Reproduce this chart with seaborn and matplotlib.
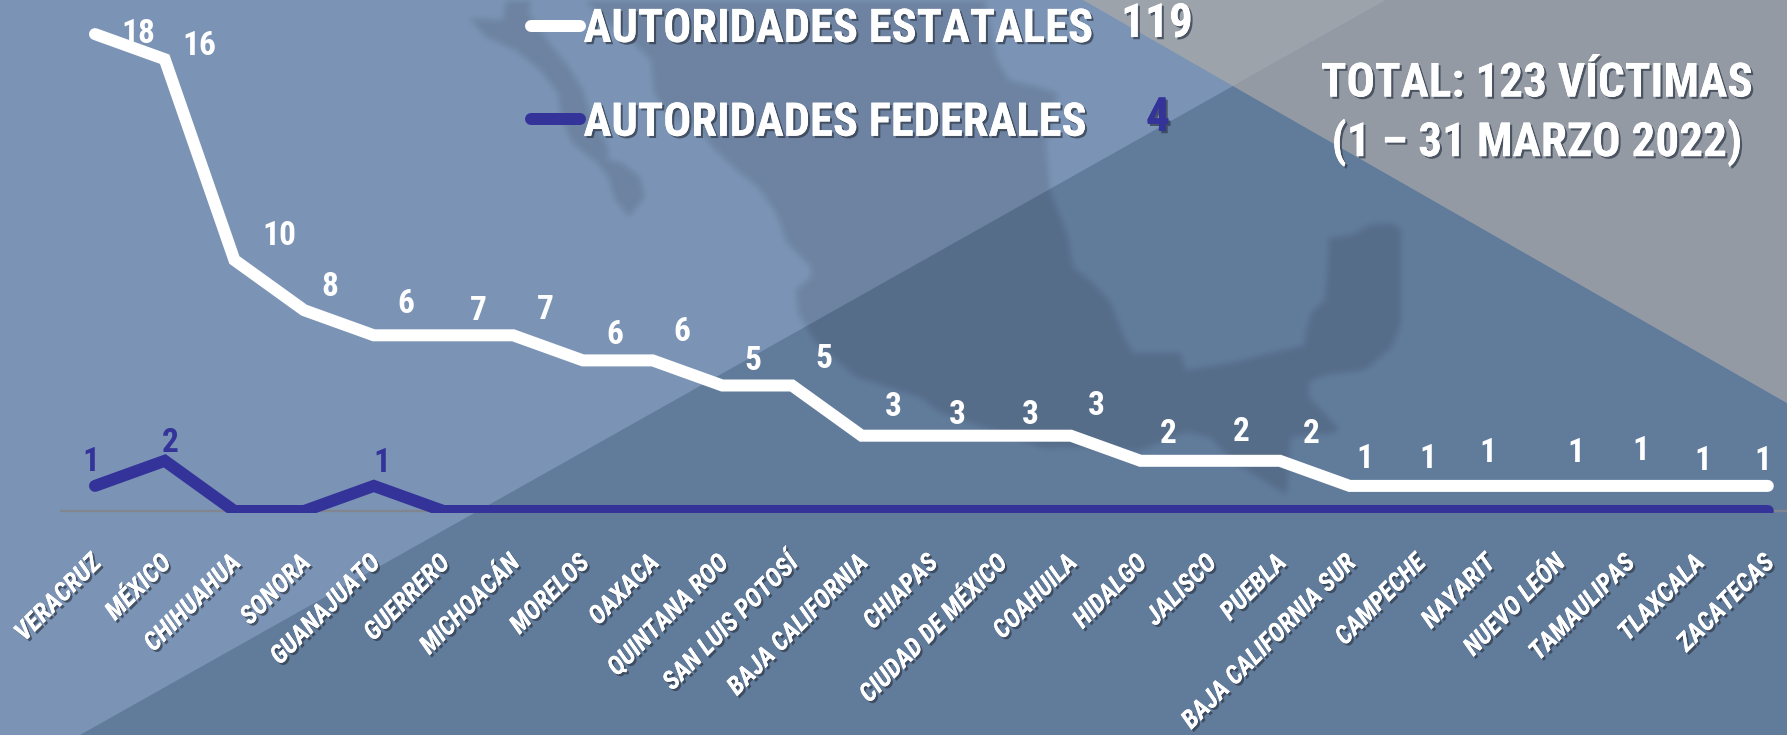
import matplotlib
matplotlib.use("Agg")
import matplotlib.pyplot as plt
import matplotlib.patheffects as pe
from matplotlib.backends.backend_agg import FigureCanvasAgg
import numpy as np
import pandas as pd
import seaborn as sns

# ---- data ----
estados = ["VERACRUZ", "MÉXICO", "CHIHUAHUA", "SONORA", "GUANAJUATO", "GUERRERO", "MICHOACÁN",
           "MORELOS", "OAXACA", "QUINTANA ROO", "SAN LUIS POTOSÍ", "BAJA CALIFORNIA", "CHIAPAS",
           "CIUDAD DE MÉXICO", "COAHUILA", "HIDALGO", "JALISCO", "PUEBLA", "BAJA CALIFORNIA SUR",
           "CAMPECHE", "NAYARIT", "NUEVO LEÓN", "TAMAULIPAS", "TLAXCALA", "ZACATECAS"]
estatales = [18, 16, 10, 8, 6, 7, 7, 6, 6, 5, 5, 3, 3, 3, 3, 2, 2, 2, 1, 1, 1, 1, 1, 1, 1]
federales = [1, 2, 0, 0, 1, 0, 0, 0, 0, 0, 0, 0, 0, 0, 0, 0, 0, 0, 0, 0, 0, 0, 0, 0, 0]
serie_estatal = "AUTORIDADES ESTATALES"
serie_federal = "AUTORIDADES FEDERALES"
total_estatal = "119"
total_federal = "4"
titulo = "TOTAL: 123 VÍCTIMAS\n(1 – 31 MARZO 2022)"

# ---- label nudges (pixels right / up from the stacked point) ----
dx_est = [43, 35, 45, 26, 32, 35, 32, 32, 29, 31, 32, 32, 26, 29, 26, 28, 31, 31, 15, 9, -1, 17, 12, 5, -5]
dy_est = [0, 13, 24, 23, 31, 24, 25, 25, 28, 25, 26, 29, 21, 21, 30, 27, 29, 27, 27, 27, 33, 33, 35, 25, 25]
nudge_fed = {0: (-4, 24), 1: (6, 18), 4: (8, 23)}

# ---- styles ----
WHITE, BLUE = "white", "#333399"
LIGHT, DARK, GREY, GREY2 = "#7B94B5", "#617B9B", "#949AA3", "#9DA3AB"
W, H, DPI = 1787, 735, 100
FONT = ["Roboto Condensed", "Liberation Sans", "DejaVu Sans"]

sns.set_style("white")
plt.rcParams["font.family"] = FONT
plt.rcParams["font.weight"] = "bold"

fig = plt.figure(figsize=(W / DPI, H / DPI), dpi=DPI)

# ---- decorative background, in pixel space ----
bg = fig.add_axes([0, 0, 1, 1], zorder=0)
bg.set_xlim(0, W); bg.set_ylim(H, 0); bg.axis("off")
bg.fill([0, W, W, 0], [0, 0, H, H], color=LIGHT, lw=0)
bg.fill([80, 1233, W, W], [H, 86, 403, H], color=DARK, lw=0)
bg.fill([1233, 1386, W, W], [86, 0, 0, 403], color=GREY, lw=0)
bg.fill([1083, 1386, 1233], [0, 0, 86], color=GREY2, lw=0)
baja = [(506, 0), (503, 20), (469, 18), (486, 37), (515, 50), (540, 70), (558, 93), (561, 117), (572, 143),
        (597, 163), (608, 177), (615, 200), (629, 217), (645, 197), (640, 177), (622, 163), (608, 160),
        (608, 147), (590, 113), (583, 90), (569, 67), (547, 40), (529, 13), (531, 0)]
mainland = [(581, -5), (600, 17), (625, 35), (651, 60), (654, 93), (669, 117), (697, 127), (715, 150), (740, 173),
            (758, 187), (776, 213), (787, 243), (811, 267), (811, 277), (796, 290), (798, 313), (816, 343),
            (856, 377), (919, 397), (941, 413), (1030, 443), (1044, 448), (1088, 447), (1137, 452), (1186, 432),
            (1209, 437), (1235, 463), (1287, 495), (1291, 437), (1336, 433), (1338, 428), (1309, 397), (1309, 382),
            (1325, 375), (1365, 370), (1392, 347), (1401, 323), (1401, 230), (1392, 223), (1369, 225), (1352, 235),
            (1329, 238), (1327, 277), (1325, 300), (1311, 313), (1305, 337), (1305, 345), (1231, 363), (1186, 370),
            (1180, 353), (1133, 353), (1124, 337), (1111, 303), (1093, 283), (1073, 267), (1068, 237), (1050, 190),
            (1046, 143), (1058, 93), (1042, 88), (1009, 80), (997, 60), (984, -5)]

# soft-edged silhouette: rasterise the outline, blur it, lay it over as a black veil
mfig = plt.Figure(figsize=(W / DPI, H / DPI), dpi=DPI)
FigureCanvasAgg(mfig)
max_ = mfig.add_axes([0, 0, 1, 1])
max_.set_xlim(0, W); max_.set_ylim(H, 0); max_.axis("off")
for shape in (baja, mainland):
    xs, ys = zip(*shape)
    max_.fill(xs, ys, color="black", lw=0)
mfig.canvas.draw()
mask = 1 - np.asarray(mfig.canvas.buffer_rgba())[..., 0] / 255.0
kernel = np.ones(7) / 7
for _ in range(2):
    mask = np.apply_along_axis(lambda r: np.convolve(r, kernel, mode="same"), 1, mask)
    mask = np.apply_along_axis(lambda c: np.convolve(c, kernel, mode="same"), 0, mask)
veil = np.zeros((H, W, 4))
veil[..., 3] = mask * 0.11
bg.imshow(veil, extent=(0, W, H, 0), interpolation="nearest", aspect="auto", zorder=5)
bg.set_xlim(0, W); bg.set_ylim(H, 0)

# ---- chart axes ----
X0, STEP, Y0, UNIT, BOTTOM = 95, 69.7, 511, 25.1, 513
ax = fig.add_axes([0, (H - BOTTOM) / H, 1, BOTTOM / H], zorder=1)
ax.patch.set_alpha(0)
for s in ax.spines.values():
    s.set_visible(False)

df = pd.DataFrame({"estado": estados, "federales": federales, "estatales": estatales})
df["apilado"] = df["federales"] + df["estatales"]

lw = 12 * 72 / DPI
line_kw = dict(sort=False, errorbar=None, linewidth=lw, solid_capstyle="round", solid_joinstyle="miter", ax=ax)
sns.lineplot(data=df, x="estado", y="apilado", color=WHITE, label=serie_estatal, zorder=3, **line_kw)
sns.lineplot(data=df, x="estado", y="federales", color=BLUE, label=serie_federal, zorder=4, **line_kw)
ax.hlines(0, -0.5, 24.5, color="#80858F", lw=2.4 * 72 / DPI, zorder=2)

ax.set_xlim(-X0 / STEP, (W - X0) / STEP)
ax.set_ylim(-(BOTTOM - Y0) / UNIT, Y0 / UNIT)
ax.set_xlabel(""); ax.set_ylabel("")
ax.set_yticks([])
ax.set_xticks(range(len(estados)))
shadow = [pe.withSimplePatchShadow(offset=(1.6, -1.6), shadow_rgbFace="#333D4D", alpha=0.75), pe.Normal()]
ax.set_xticklabels(estados, rotation=45, ha="right", va="center", rotation_mode="anchor",
                   fontsize=18.5, style="italic", fontweight="bold", color=WHITE, path_effects=shadow)
ax.tick_params(axis="x", length=0, pad=33)
for t in ax.get_xticklabels():
    t.set_transform(t.get_transform() + matplotlib.transforms.ScaledTranslation(3 / DPI, 0, fig.dpi_scale_trans))

# ---- value labels ----
for i, v in enumerate(estatales):
    ax.annotate(str(v), (i, df["apilado"][i]), xytext=(dx_est[i], dy_est[i]), textcoords="offset pixels",
                ha="center", va="center", color=WHITE, fontsize=24, zorder=5)
for i, (dx, dy) in nudge_fed.items():
    ax.annotate(str(federales[i]), (i, federales[i]), xytext=(dx, dy), textcoords="offset pixels",
                ha="center", va="center", color=BLUE, fontsize=24, zorder=5)

# ---- legend ----
leg = ax.legend(loc="upper left", bbox_to_anchor=(531 / W, 1 - 7 / BOTTOM), frameon=False,
                fontsize=33.5, handlelength=1.06, handletextpad=0.07, labelspacing=1.07, borderpad=0, borderaxespad=0)
for t in leg.get_texts():
    t.set_color(WHITE)
    t.set_path_effects(shadow)
for h in leg.get_lines():
    h.set_solid_capstyle("round")

def fig_xy(px, py):
    return px / W, 1 - py / H

fig.text(*fig_xy(1157, 24), total_estatal, ha="center", va="center", color=WHITE, fontsize=34, path_effects=shadow, zorder=6)
fig.text(*fig_xy(1158, 118), total_federal, ha="center", va="center", color=BLUE, fontsize=34, path_effects=shadow, zorder=6)
fig.text(*fig_xy(1537, 114), titulo, ha="center", va="center", color=WHITE, fontsize=34, linespacing=1.38,
         path_effects=shadow, zorder=6)

fig.savefig("out.png", dpi=DPI)
